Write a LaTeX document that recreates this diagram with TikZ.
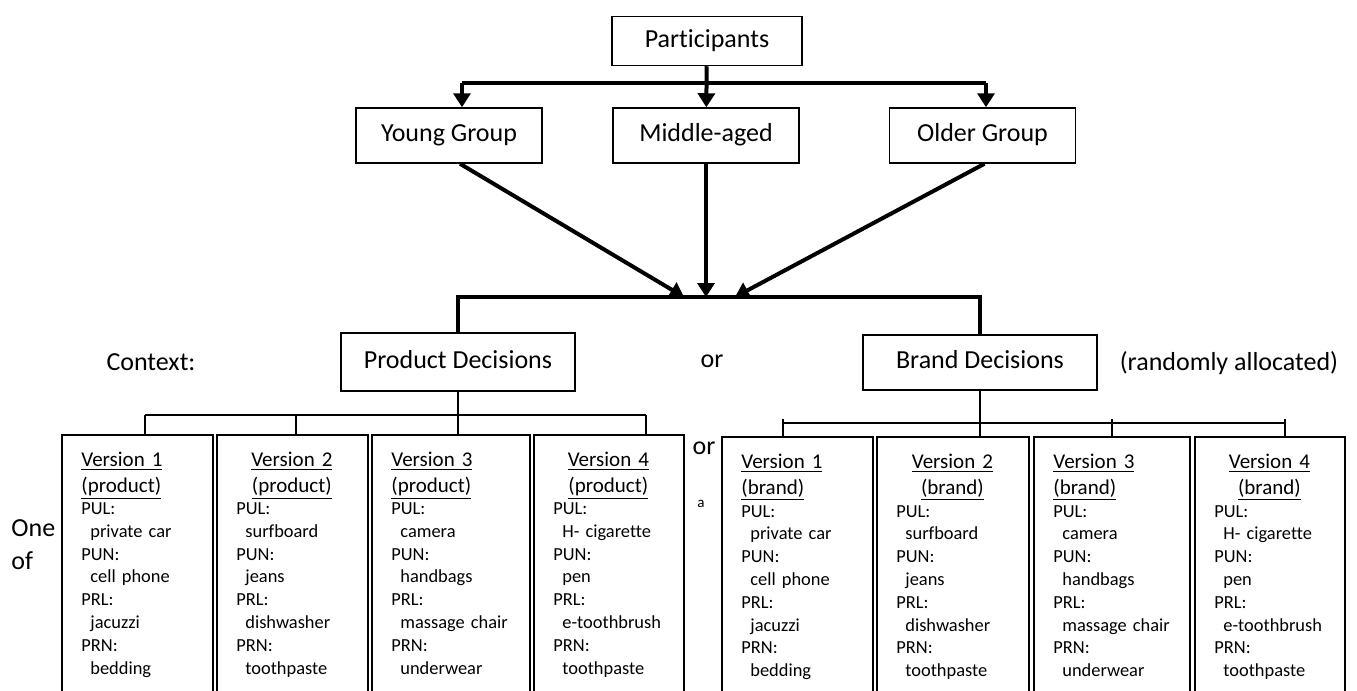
\documentclass[tikz,border=0pt]{standalone}
\usepackage{fontspec}
\setmainfont{Carlito}[Ligatures=NoCommon]
\usetikzlibrary{arrows.meta}

\begin{document}
\begin{tikzpicture}[
                x=0.5pt, y=-0.5pt,
                >={Triangle[length=7pt,width=8.5pt]},
                box/.style={draw, rectangle, line width=0.75pt, inner sep=0pt, text height=0.63em, text depth=0.02em, font=\fontsize{13}{15}\selectfont},
                grp/.style={box, minimum width=93pt, minimum height=27.5pt},
                version/.style={draw, rectangle, line width=0.85pt, anchor=north west, minimum height=135pt},
                big/.style={font=\fontsize{13}{15}\selectfont, inner sep=0pt},
                head/.style={font=\fontsize{10.5}{13}\selectfont, inner sep=0pt, anchor=base west},
                list/.style={font=\fontsize{9.2}{11.4}\selectfont, inner sep=0pt, text width=66pt, align=left, anchor=base west},
                thick line/.style={line width=2pt},
                bar/.style={line width=1pt}
                ]

                \useasboundingbox (0,0) rectangle (1357,691);
                \clip (0,0) rectangle (1357,691);

                % top part
                \node [box, minimum width=95pt, minimum height=24.5pt] (part) at (707,41) {Participants};
                \node [grp] (yng) at (449,135.5) {Young Group};
                \node [grp] (mid) at (706,135.5) {Middle-aged};
                \node [grp] (old) at (982.5,135.5) {Older Group};

                \coordinate (tl) at (462,83);
                \coordinate (tr) at (986,83);
                \draw[thick line] (tl) -- (tr);
                \draw[thick line,->] (part) -- (mid);
                \draw[thick line,->] (tl) -- (tl |- yng.north);
                \draw[thick line,->] (tr) -- (tr |- old.north);

                % context
                \node [box, minimum width=117pt, minimum height=29pt] (prod) at (458,362) {Product Decisions};
                \node [box, minimum width=117pt, minimum height=27.5pt] (brand) at (980,362.5) {Brand Decisions};
                \node [big] (ctx) at (151,362) {Context:};
                \node [big] (ormid) at (712,361) {or};
                \node [big] (rand) at (1229,363) {(randomly allocated)};

                \coordinate (jl) at (684,297);
                \coordinate (jm) at (706,297);
                \coordinate (jr) at (735,297);
                \coordinate (je) at (980,297);
                \draw[thick line,->] ([xshift=5.5pt]yng.south) -- (jl);
                \draw[thick line,->] (mid) -- (jm);
                \draw[thick line,->] ([xshift=1pt]old.south) -- (jr);
                \draw[thick line] (prod.north) |- (je) -- (brand.north);

                % versions
                \foreach \n/\xl/\bw/\hal/\va/\vb/\vc/\vd in {
                    1/61/151/left/private car/cell phone/jacuzzi/bedding,
                    2/216/151/center/surfboard/jeans/dishwasher/toothpaste,
                    3/371/158/left/camera/handbags/massage chair/underwear,
                    4/533/150/center/H- cigarette/pen/e-toothbrush/toothpaste}{
                    \pgfmathsetmacro\tw{(\bw-40)*0.5}
                    \pgfmathsetmacro\mw{\bw*0.5}
                    \node [version, minimum width=\mw pt] (p\n) at (\xl,434) {};
                    \node [head, text width=\tw pt, align=\hal] (ph\n) at (\xl+20,466) {\underline{Version \n}\\\underline{(product)}};
                    \node [list] (pl\n) at (\xl+20,514.5) {PUL:\\\hspace*{4.5pt}\va\\PUN:\\\hspace*{4.5pt}\vb\\PRL:\\\hspace*{4.5pt}\vc\\PRN:\\\hspace*{4.5pt}\vd};
                }
                \foreach \n/\xl/\bw/\hal/\va/\vb/\vc/\vd in {
                    1/721/151/left/private car/cell phone/jacuzzi/bedding,
                    2/876/152/center/surfboard/jeans/dishwasher/toothpaste,
                    3/1033/156/left/camera/handbags/massage chair/underwear,
                    4/1194/150/center/H- cigarette/pen/e-toothbrush/toothpaste}{
                    \pgfmathsetmacro\tw{(\bw-40)*0.5}
                    \pgfmathsetmacro\mw{\bw*0.5}
                    \node [version, minimum width=\mw pt] (b\n) at (\xl,436) {};
                    \node [head, text width=\tw pt, align=\hal] (bh\n) at (\xl+20,468) {\underline{Version \n}\\\underline{(brand)}};
                    \node [list] (bl\n) at (\xl+20,517) {PUL:\\\hspace*{4.5pt}\va\\PUN:\\\hspace*{4.5pt}\vb\\PRL:\\\hspace*{4.5pt}\vc\\PRN:\\\hspace*{4.5pt}\vd};
                }

                % brackets
                \coordinate (pbl) at (145,415);
                \coordinate (pbm) at (296,415);
                \coordinate (pbr) at (646,415);
                \draw[bar] (pbl) -- (pbr);
                \draw[bar] (prod) -- (prod |- p3.north);
                \draw[bar] (pbl) -- (pbl |- p1.north);
                \draw[bar] (pbm) -- (pbm |- p2.north);
                \draw[bar] (pbr) -- (pbr |- p4.north);

                \coordinate (bbl) at (783,423);
                \coordinate (bbm) at (1112,423);
                \coordinate (bbr) at (1285,423);
                \draw[bar] (bbl) -- (bbr);
                \draw[bar] (brand) -- (brand |- b2.north);
                \draw[bar] ([yshift=2pt]bbl) -- (bbl |- b1.north);
                \draw[bar] ([yshift=2pt]bbm) -- (bbm |- b3.north);
                \draw[bar] ([yshift=2pt]bbr) -- (bbr |- b4.north);

                % side words
                \node [big] (orside) at (704,448) {or};
                \node [font=\fontsize{7.5}{9}\selectfont, inner sep=0pt] (amark) at (701,504) {a};
                \node [big, anchor=west] (one) at (11,528) {One};
                \node [big, anchor=west] (of) at (11,561) {of};
            \end{tikzpicture}
\end{document}
